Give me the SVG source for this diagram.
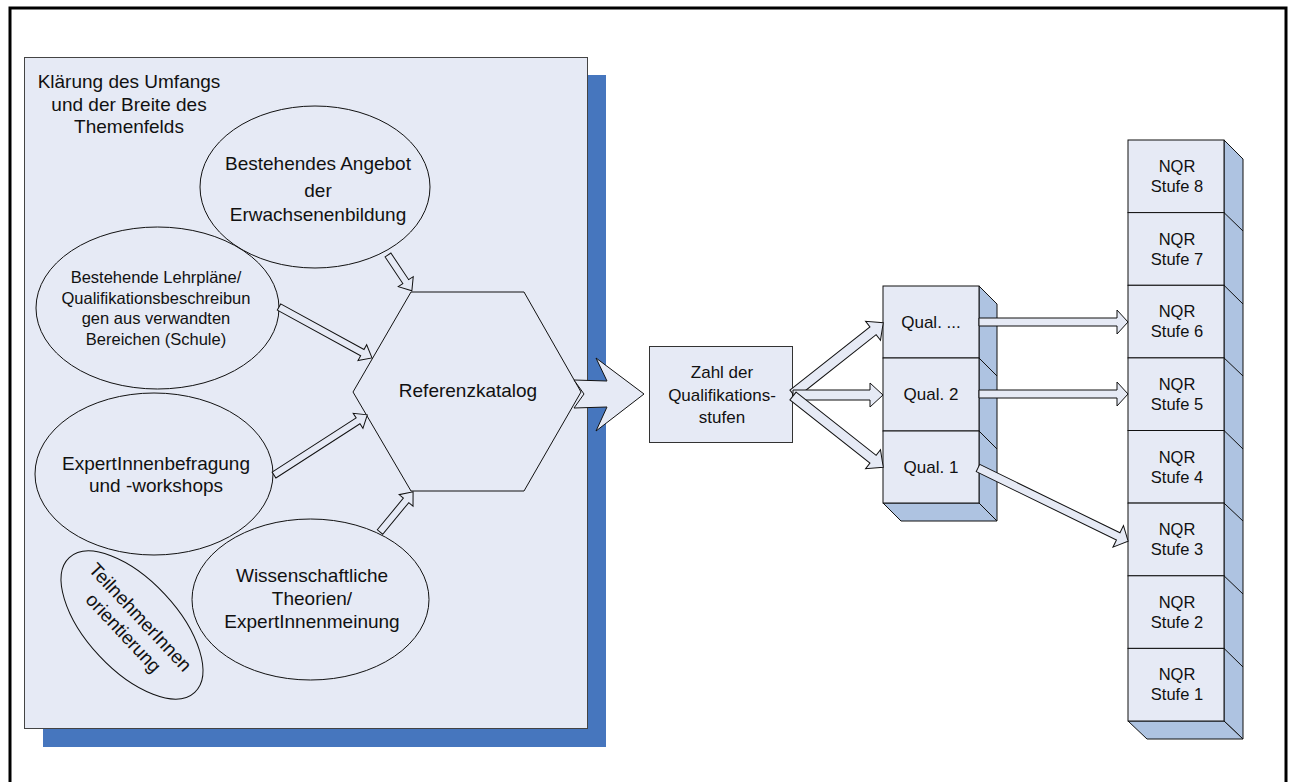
<svg xmlns="http://www.w3.org/2000/svg" width="1292" height="782" viewBox="0 0 1292 782">
<style>
text{font-family:"Liberation Sans",Arial,sans-serif;fill:#111;text-anchor:middle}
.big{font-size:19px}
.mid{font-size:17px}
.sm{font-size:16.5px}
.shape{fill:#E6EAF5;stroke:#111;stroke-width:1}
.side{fill:#AEC3E1;stroke:#111;stroke-width:1}
.arr{fill:#E6EAF5;stroke:#111;stroke-width:1;stroke-linejoin:miter}
</style>
<rect x="0" y="0" width="1292" height="782" fill="#fff"/>
<rect x="10" y="8" width="1276" height="790" fill="none" stroke="#000" stroke-width="3"/>
<g id="panel">
<rect x="43" y="75" width="563" height="672" fill="#4676BE"/>
<rect x="24.5" y="57.5" width="563" height="671" fill="#E6EAF5" stroke="#444" stroke-width="1"/>
<text class="big" x="129" y="88">Klärung des Umfangs</text>
<text class="big" x="129" y="110.5">und der Breite des</text>
<text class="big" x="129" y="133">Themenfelds</text>
</g>
<g id="angebot">
<ellipse class="shape" cx="315" cy="187" rx="115" ry="81"/>
<text class="big" x="318" y="170">Bestehendes Angebot</text>
<text class="big" x="318" y="197">der</text>
<text class="big" x="318" y="221">Erwachsenenbildung</text>
</g>
<g id="lehrplaene">
<ellipse class="shape" cx="157.5" cy="308" rx="121.5" ry="81"/>
<text class="sm" x="156" y="283">Bestehende Lehrpläne/</text>
<text class="sm" x="156" y="303.5">Qualifikationsbeschreibun</text>
<text class="sm" x="156" y="324">gen aus verwandten</text>
<text class="sm" x="156" y="345">Bereichen (Schule)</text>
</g>
<g id="expert">
<ellipse class="shape" cx="154" cy="474" rx="119" ry="81"/>
<text class="big" x="156" y="470">ExpertInnenbefragung</text>
<text class="big" x="156" y="492">und -workshops</text>
</g>
<g id="wissenschaft">
<ellipse class="shape" cx="310.5" cy="599.5" rx="118.5" ry="80.5"/>
<text class="big" x="312" y="582">Wissenschaftliche</text>
<text class="big" x="312" y="605">Theorien/</text>
<text class="big" x="312" y="628">ExpertInnenmeinung</text>
</g>
<g id="teilnehmer" transform="translate(132,625) rotate(47)">
<ellipse class="shape" cx="0" cy="0" rx="92" ry="45"/>
<text class="big" x="0" y="-5">TeilnehmerInnen</text>
<text class="big" x="0" y="18">orientierung</text>
</g>
<g id="referenzkatalog">
<polygon class="shape" points="411,292 524,292 581,392 524,491 411,491 353,392"/>
<text class="big" x="468" y="397">Referenzkatalog</text>
</g>
<g id="zahl">
<rect x="649.5" y="346.5" width="143" height="96" fill="#E6EAF5" stroke="#333" stroke-width="1"/>
<text class="mid" x="722" y="378">Zahl der</text>
<text class="mid" x="722" y="400.5">Qualifikations-</text>
<text class="mid" x="722" y="423">stufen</text>
</g>
<g id="qual-stack">
<polygon class="side" points="979,286 997,304 997,521 979,503"/>
<polygon class="side" points="883,503 979,503 997,521 901,521"/>
<line x1="979" y1="358" x2="997" y2="376" stroke="#111"/>
<line x1="979" y1="431" x2="997" y2="449" stroke="#111"/>
<g id="qual-dots"><rect class="shape" x="883" y="286" width="96" height="72"/><text class="mid" x="931" y="328">Qual. ...</text></g>
<g id="qual-2"><rect class="shape" x="883" y="358" width="96" height="73"/><text class="mid" x="931" y="400">Qual. 2</text></g>
<g id="qual-1"><rect class="shape" x="883" y="431" width="96" height="72"/><text class="mid" x="931" y="473">Qual. 1</text></g>
</g>
<g id="nqr-stack">
<polygon class="side" points="1224,140 1243,159 1243,739 1224,721"/>
<polygon class="side" points="1128,721 1224,721 1243,739 1147,739"/>
<g stroke="#111">
<line x1="1224" y1="212.6" x2="1243" y2="231"/>
<line x1="1224" y1="285.3" x2="1243" y2="304"/>
<line x1="1224" y1="357.9" x2="1243" y2="376"/>
<line x1="1224" y1="430.5" x2="1243" y2="449"/>
<line x1="1224" y1="503.1" x2="1243" y2="521"/>
<line x1="1224" y1="575.8" x2="1243" y2="594"/>
<line x1="1224" y1="648.4" x2="1243" y2="667"/>
</g>
<g id="nqr-8"><rect class="shape" x="1128" y="140" width="96" height="72.6"/><text class="sm" x="1177" y="172">NQR</text><text class="sm" x="1177" y="192">Stufe 8</text></g>
<g id="nqr-7"><rect class="shape" x="1128" y="212.6" width="96" height="72.7"/><text class="sm" x="1177" y="244.6">NQR</text><text class="sm" x="1177" y="264.6">Stufe 7</text></g>
<g id="nqr-6"><rect class="shape" x="1128" y="285.3" width="96" height="72.6"/><text class="sm" x="1177" y="317">NQR</text><text class="sm" x="1177" y="337">Stufe 6</text></g>
<g id="nqr-5"><rect class="shape" x="1128" y="357.9" width="96" height="72.6"/><text class="sm" x="1177" y="390">NQR</text><text class="sm" x="1177" y="410">Stufe 5</text></g>
<g id="nqr-4"><rect class="shape" x="1128" y="430.5" width="96" height="72.6"/><text class="sm" x="1177" y="462.5">NQR</text><text class="sm" x="1177" y="482.5">Stufe 4</text></g>
<g id="nqr-3"><rect class="shape" x="1128" y="503.1" width="96" height="72.7"/><text class="sm" x="1177" y="535">NQR</text><text class="sm" x="1177" y="555">Stufe 3</text></g>
<g id="nqr-2"><rect class="shape" x="1128" y="575.8" width="96" height="72.6"/><text class="sm" x="1177" y="608">NQR</text><text class="sm" x="1177" y="628">Stufe 2</text></g>
<g id="nqr-1"><rect class="shape" x="1128" y="648.4" width="96" height="72.6"/><text class="sm" x="1177" y="680">NQR</text><text class="sm" x="1177" y="700">Stufe 1</text></g>
</g>
<g id="connectors">
<path class="arr" d="M0,-3.5 H32 V-9 L43,0 L32,9 V3.5 H0 Z" transform="translate(388,255) rotate(56.3)"/>
<path class="arr" d="M0,-3.5 H95 V-9 L106,0 L95,9 V3.5 H0 Z" transform="translate(279,307) rotate(28.7)"/>
<path class="arr" d="M0,-3.5 H100 V-9 L111,0 L100,9 V3.5 H0 Z" transform="translate(274,475) rotate(-32.8)"/>
<path class="arr" d="M0,-3.5 H41 V-9 L52,0 L41,9 V3.5 H0 Z" transform="translate(380,532) rotate(-50.5)"/>
<polygon class="arr" points="574,380 607,381 596,358 644,394 596,431 607,407 574,408 584,394"/>
<path class="arr" d="M0,-5 H102 V-12 L115,0 L102,12 V5 H0 Z" transform="translate(793,394) rotate(-38.3)"/>
<path class="arr" d="M0,-5 H77 V-12 L90,0 L77,12 V5 H0 Z" transform="translate(793,395)"/>
<path class="arr" d="M0,-5 H102 V-12 L115,0 L102,12 V5 H0 Z" transform="translate(793,396) rotate(38.3)"/>
<path class="arr" d="M0,-4 H138 V-12 L149,0 L138,12 V4 H0 Z" transform="translate(979,322)"/>
<path class="arr" d="M0,-4 H138 V-12 L149,0 L138,12 V4 H0 Z" transform="translate(979,394)"/>
<path class="arr" d="M0,-4 H156 V-12 L167,0 L156,12 V4 H0 Z" transform="translate(978,468) rotate(26)"/>
</g>
</svg>
